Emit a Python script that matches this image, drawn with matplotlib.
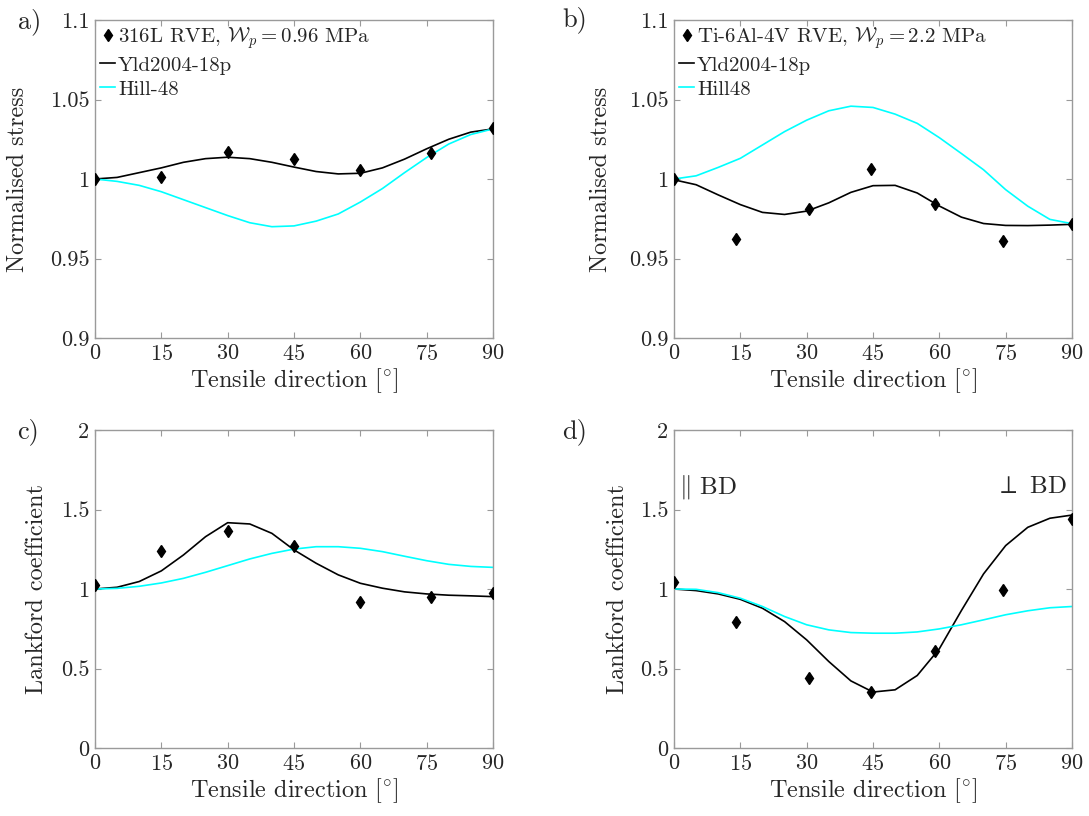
import numpy as np
import matplotlib
matplotlib.use('Agg')
import matplotlib.pyplot as plt
from matplotlib.ticker import FormatStrFormatter

plt.rcParams['font.family'] = 'serif'
plt.rcParams['font.serif'] = ['cmr10']
plt.rcParams['mathtext.fontset'] = 'cm'
plt.rcParams['axes.formatter.use_mathtext'] = True

# curve sampling angles (deg)
theta = [0, 5, 10, 15, 20, 25, 30, 35, 40, 45, 50, 55, 60, 65, 70, 75, 80, 85, 90]

# a) 316L normalised stress
a_pts_x = [0, 15, 30, 45, 60, 76, 90]
a_pts_y = [1.000, 1.001, 1.017, 1.0125, 1.0057, 1.0165, 1.0318]
a_yld = [1.000, 1.001, 1.004, 1.007, 1.0105, 1.0128, 1.0137, 1.0128, 1.0105, 1.0075,
         1.0047, 1.0032, 1.0036, 1.007, 1.0125, 1.019, 1.025, 1.0295, 1.0315]
a_hill = [1.000, 0.9985, 0.996, 0.992, 0.987, 0.982, 0.977, 0.9725, 0.970, 0.9705,
          0.9735, 0.978, 0.9855, 0.994, 1.004, 1.0135, 1.022, 1.028, 1.0315]

# b) Ti-6Al-4V normalised stress
b_pts_x = [0, 14, 30.5, 44.5, 59, 74.5, 90]
b_pts_y = [1.000, 0.962, 0.981, 1.0065, 0.984, 0.961, 0.972]
b_yld = [0.9995, 0.9964, 0.990, 0.9839, 0.979, 0.9777, 0.9798, 0.985, 0.9916, 0.9958,
         0.996, 0.9912, 0.983, 0.976, 0.972, 0.9708, 0.9707, 0.971, 0.9715]
b_hill = [1.000, 1.002, 1.0073, 1.013, 1.0214, 1.0298, 1.037, 1.0429, 1.0458, 1.045,
          1.0408, 1.035, 1.026, 1.016, 1.0058, 0.9933, 0.9829, 0.9746, 0.9719]

# c) 316L Lankford coefficient
c_pts_x = [0, 15, 30, 45, 60, 76, 90]
c_pts_y = [1.026, 1.241, 1.367, 1.273, 0.917, 0.952, 0.975]
c_yld = [1.000, 1.011, 1.047, 1.114, 1.214, 1.329, 1.417, 1.409, 1.350, 1.246,
         1.162, 1.089, 1.036, 1.005, 0.982, 0.969, 0.961, 0.957, 0.952]
c_hill = [1.000, 1.004, 1.017, 1.038, 1.067, 1.105, 1.147, 1.189, 1.224, 1.251,
          1.266, 1.266, 1.256, 1.235, 1.206, 1.178, 1.155, 1.142, 1.136]

# d) Ti-6Al-4V Lankford coefficient
d_pts_x = [0, 14, 30.5, 44.5, 59, 74.5, 90]
d_pts_y = [1.045, 0.795, 0.44, 0.352, 0.609, 0.996, 1.442]
d_yld = [1.000, 0.990, 0.969, 0.935, 0.879, 0.795, 0.680, 0.544, 0.422, 0.352,
         0.366, 0.456, 0.624, 0.865, 1.095, 1.273, 1.388, 1.445, 1.465]
d_hill = [1.000, 0.998, 0.977, 0.942, 0.890, 0.827, 0.775, 0.743, 0.726, 0.722,
          0.722, 0.730, 0.749, 0.775, 0.806, 0.838, 0.863, 0.882, 0.890]

legend_a = [r'316L RVE, $\mathcal{W}_p = 0.96$ MPa', 'Yld2004-18p', 'Hill-48']
legend_b = [r'Ti-6Al-4V RVE, $\mathcal{W}_p = 2.2$ MPa', 'Yld2004-18p', 'Hill48']

fig = plt.figure(figsize=(10.89, 8.16), dpi=100)
W, H = 1089, 816
boxes = [(95, 20), (674, 20), (95, 430), (674, 430)]
axes = [fig.add_axes([x / W, 1 - (y + 318) / H, 398 / W, 318 / H]) for x, y in boxes]

panels = [
    (a_pts_x, a_pts_y, a_yld, a_hill),
    (b_pts_x, b_pts_y, b_yld, b_hill),
    (c_pts_x, c_pts_y, c_yld, c_hill),
    (d_pts_x, d_pts_y, d_yld, d_hill),
]
txt = '#262626'
for i, (ax, (px, py, yld, hill)) in enumerate(zip(axes, panels)):
    pts, = ax.plot(px, py, 'd', color='k', markersize=6, zorder=5)
    l1, = ax.plot(theta, yld, color='k', lw=1.2)
    l2, = ax.plot(theta, hill, color='cyan', lw=1.2)
    ax.set_xlim(0, 90)
    ax.set_xticks([0, 15, 30, 45, 60, 75, 90])
    if i < 2:
        ax.set_ylim(0.9, 1.1)
        ax.set_yticks([0.9, 0.95, 1.0, 1.05, 1.1])
        ax.set_ylabel('Normalised stress', fontsize=17.5, color=txt,
                      labelpad=15 if i == 0 else 12)
        labels = legend_a if i == 0 else legend_b
        ax.legend([pts, l1, l2], labels, loc='upper left', frameon=False,
                  fontsize=15, handlelength=0.7, handletextpad=0.15,
                  labelspacing=0.25, borderaxespad=0.15, borderpad=0.1,
                  numpoints=1, labelcolor=txt)
    else:
        ax.set_ylim(0, 2)
        ax.set_yticks([0, 0.5, 1, 1.5, 2])
        ax.set_ylabel('Lankford coefficient', fontsize=17.5, color=txt,
                      labelpad=9 if i == 2 else 8)
    ax.yaxis.set_major_formatter(FormatStrFormatter('%g'))
    ax.set_xlabel(r'Tensile direction [$^{\circ}$]', fontsize=17.5, color=txt, labelpad=2)
    ax.tick_params(direction='in', top=True, right=True, length=4, width=0.8,
                   color='#9a9a9a', labelsize=16, labelcolor=txt, pad=4)
    for s in ax.spines.values():
        s.set_color('#9a9a9a')
        s.set_linewidth(1.0)

axes[3].text(0.012, 0.82, r'$\Vert$ BD', transform=axes[3].transAxes,
             fontsize=18, color=txt, va='center', ha='left')
axes[3].text(0.987, 0.82, r'$\perp$ BD', transform=axes[3].transAxes,
             fontsize=18, color=txt, va='center', ha='right')

for lab, (x, y) in zip(['a)', 'b)', 'c)', 'd)'], [(30, 22), (575, 20), (28, 432), (575, 432)]):
    fig.text(x / W, 1 - y / H, lab, fontsize=19, color=txt, ha='center', va='center')

fig.savefig('out.png', dpi=100)
